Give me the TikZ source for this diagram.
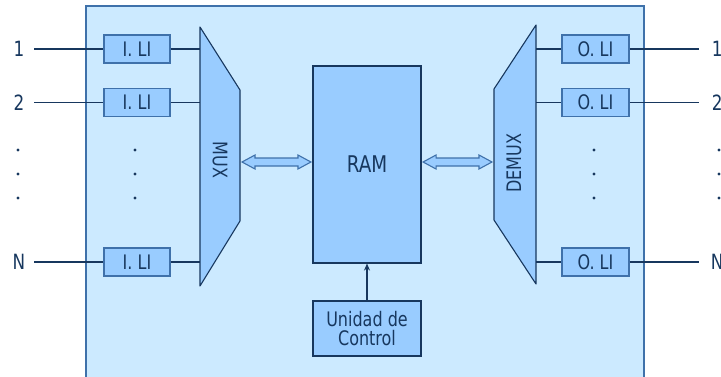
\documentclass[tikz,border=0pt]{standalone}
\usepackage{fontspec}
\setmainfont[FakeStretch=0.8]{DejaVu Sans}
\usetikzlibrary{calc,arrows.meta}
\definecolor{bgfill}{HTML}{CCEAFF}
\definecolor{elfill}{HTML}{99CCFF}
\definecolor{navy}{HTML}{17375E}
\definecolor{midblue}{HTML}{3F71AA}
\begin{document}
\begin{tikzpicture}[x=1pt,y=-1pt,
  every node/.style={text=navy, font=\fontsize{20}{22}\selectfont},
  libox/.style={draw=midblue, fill=elfill, line width=1.2pt, minimum width=66pt, minimum height=28pt, inner sep=0pt},
  blockbox/.style={draw=navy, fill=elfill, line width=1.1pt, inner sep=0pt, align=center},
  lbl/.style={inner sep=0pt, minimum width=30pt, minimum height=18pt, font=\fontsize{21}{23}\selectfont},
  wire/.style={draw=navy, line width=1.1pt},
  boldwire/.style={draw=navy, line width=2.6pt},
  muxshape/.style={draw=navy, fill=elfill, line width=1.1pt, line join=round},
  fatarr/.style={draw=midblue, fill=elfill, line width=1.1pt, line join=miter},
  dotmark/.style={fill=navy, draw=none},
]
\useasboundingbox (0,0) rectangle (721,376);
% main panel
\path[fill=bgfill, draw=midblue, line width=1.6pt] (86,6) rectangle (644,400);

% MUX and DEMUX
\coordinate (muxtl) at (200,27);
\coordinate (muxr) at (240,162);
\coordinate (demuxl) at (494,162);
\coordinate (demuxtr) at (536,25);
\path[muxshape] (200,27) -- (240,90) -- (240,221) -- (200,286) -- cycle;
\path[muxshape] (494,89) -- (536,25) -- (536,284) -- (494,220) -- cycle;
\node[rotate=-90] (muxlbl) at (220,160) {MUX};
\node[rotate=90] (demuxlbl) at (514,163) {DEMUX};

% RAM and control unit
\node[blockbox, minimum width=108pt, minimum height=197pt, font=\fontsize{23}{25}\selectfont] (ram) at (367,164.5) {RAM};
\node[blockbox, minimum width=108pt, minimum height=55pt] (uc) at (367,328.5) {Unidad de\\[-3pt]Control};
\draw[draw=navy, line width=1.1pt, -{Stealth[length=7pt,width=6pt]}] (uc.north) -- (ram.south);

% input side
\node[lbl] (in1) at (19,49) {1};
\node[lbl] (in2) at (19,102.5) {2};
\node[lbl] (inN) at (19,262) {N};
\node[libox] (ili1) at (137,49) {I. LI};
\node[libox] (ili2) at (137,102.5) {I. LI};
\node[libox] (iliN) at (137,262) {I. LI};
\path[boldwire] (in1.east) -- (ili1.west);
\path[boldwire] (ili1.east) -- (ili1.east -| muxtl);
\path[wire] (in2.east) -- (ili2.west);
\path[wire] (ili2.east) -- (ili2.east -| muxtl);
\path[wire] (inN.east) -- (iliN.west);
\path[wire] (iliN.east) -- (iliN.east -| muxtl);

% output side
\node[libox, minimum width=67pt] (oli1) at (595.5,49) {O. LI};
\node[libox, minimum width=67pt] (oli2) at (595.5,102.5) {O. LI};
\node[libox, minimum width=67pt] (oliN) at (595.5,262) {O. LI};
\node[lbl, anchor=west, minimum width=36pt] (out1) at (699,49) {1};
\node[lbl, anchor=west, minimum width=36pt] (out2) at (699,102.5) {2};
\node[lbl, anchor=west, minimum width=36pt] (outN) at (699,262) {N};
\path[boldwire] (oli1.west -| demuxtr) -- (oli1.west);
\path[boldwire] (oli1.east) -- (out1.west);
\path[wire] (oli2.west -| demuxtr) -- (oli2.west);
\path[wire] (oli2.east) -- (out2.west);
\path[wire] (oliN.west -| demuxtr) -- (oliN.west);
\path[wire] (oliN.east) -- (outN.west);

% dots
\foreach \x in {18,135,594,719}{
  \foreach \y in {150,174,198}{
    \fill[dotmark] (\x,\y) circle (1.7pt);
  }
}

% fat double arrows
\coordinate (a1) at ($(muxr)+(2,0)$);
\coordinate (b1) at ($(muxr -| ram.west)+(-1.5,0)$);
\coordinate (a2) at ($(muxr -| ram.east)+(1.5,0)$);
\coordinate (b2) at ($(demuxl)+(-2,0)$);
\path[fatarr] (a1) -- ++(13,-7) -- ++(0,3) -- ($(b1)+(-13,-4)$) -- ++(0,-3) -- (b1)
  -- ++(-13,7) -- ++(0,-3) -- ($(a1)+(13,4)$) -- ++(0,3) -- cycle;
\path[fatarr] (a2) -- ++(13,-7) -- ++(0,3) -- ($(b2)+(-13,-4)$) -- ++(0,-3) -- (b2)
  -- ++(-13,7) -- ++(0,-3) -- ($(a2)+(13,4)$) -- ++(0,3) -- cycle;
\end{tikzpicture}
\end{document}
